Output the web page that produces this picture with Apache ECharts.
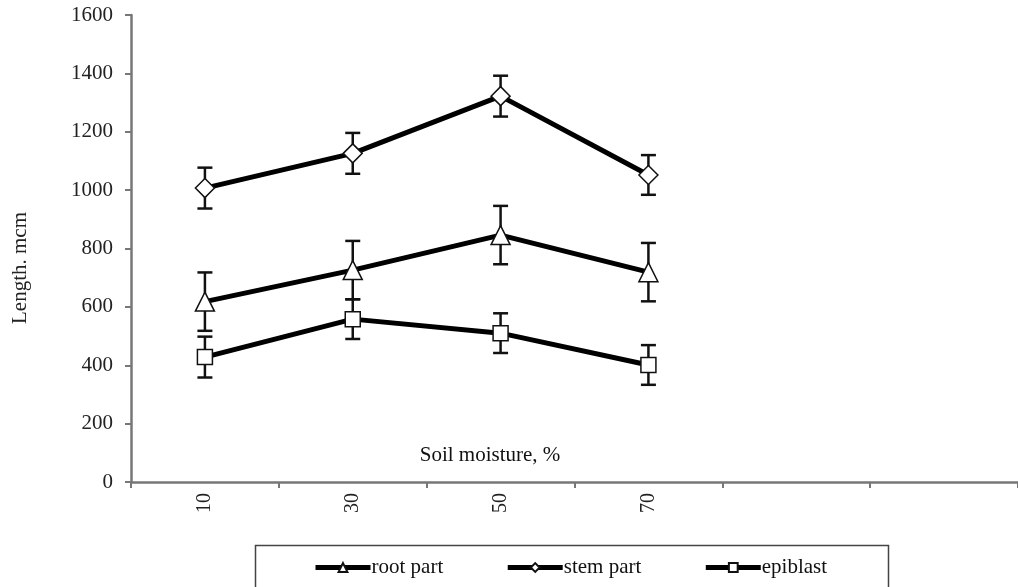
<!DOCTYPE html>
<html><head><meta charset="utf-8">
<script src="https://cdn.jsdelivr.net/npm/echarts@6/dist/echarts.min.js"></script>
<style>html,body{margin:0;padding:0;background:#fff}#c{width:1018px;height:587px}</style>
</head><body><div id="c"></div>
<script>
const categories = ['10', '30', '50', '70', '', ''];
const rootPart = [618, 726, 846, 719];
const rootErr = [100, 100, 100, 100];
const stemPart = [1007, 1126, 1322, 1052];
const stemErr = [70, 70, 70, 68];
const epiblast = [428, 558, 510, 401];
const epiErr = [70, 68, 68, 68];
const yTicks = { min: 0, max: 1600, interval: 200 };

const FONT = '"Liberation Serif", "DejaVu Serif", serif';
const chart = echarts.init(document.getElementById('c'));

function errData(vals, errs) {
  return vals.map((v, i) => [i, v - errs[i], v + errs[i]]);
}
function errSeries(vals, errs) {
  return {
    type: 'custom',
    z: 1,
    silent: true,
    data: errData(vals, errs),
    renderItem: function (params, api) {
      const x = api.value(0);
      const lo = api.coord([x, api.value(1)]);
      const hi = api.coord([x, api.value(2)]);
      const w = 7.5;
      const st = { stroke: '#111', lineWidth: 2.5, fill: null };
      return {
        type: 'group',
        children: [
          { type: 'line', shape: { x1: hi[0], y1: hi[1], x2: lo[0], y2: lo[1] }, style: st },
          { type: 'line', shape: { x1: hi[0] - w, y1: hi[1], x2: hi[0] + w, y2: hi[1] }, style: st },
          { type: 'line', shape: { x1: lo[0] - w, y1: lo[1], x2: lo[0] + w, y2: lo[1] }, style: st }
        ]
      };
    }
  };
}
function lineSeries(name, vals, symbol, size) {
  return {
    name: name,
    type: 'line',
    z: 3,
    data: vals,
    symbol: symbol,
    symbolSize: size,
    lineStyle: { color: '#000', width: 5 },
    itemStyle: { color: '#fff', borderColor: '#111', borderWidth: 1.5 },
    emphasis: { disabled: true }
  };
}

chart.setOption({
  animation: false,
  backgroundColor: '#fff',
  grid: { left: 131, top: 15, bottom: 105, width: 891, containLabel: false },
  xAxis: {
    type: 'category',
    data: categories,
    boundaryGap: true,
    axisLine: { lineStyle: { color: '#777', width: 2.5 } },
    axisTick: { show: true, length: 6, lineStyle: { color: '#777', width: 2 } },
    axisLabel: { rotate: 90, fontFamily: FONT, fontSize: 20, color: '#222', margin: 11 },
    splitLine: { show: false }
  },
  yAxis: {
    type: 'value',
    min: yTicks.min, max: yTicks.max, interval: yTicks.interval,
    axisLine: { show: true, lineStyle: { color: '#777', width: 2.5 } },
    axisTick: { show: true, length: 6, lineStyle: { color: '#777', width: 2 } },
    axisLabel: { fontFamily: FONT, fontSize: 21, color: '#222', margin: 18, formatter: function (v) { return String(v); } },
    splitLine: { show: false }
  },
  legend: {
    left: 313, top: 557,
    padding: 0,
    itemWidth: 55, itemHeight: 11,
    itemGap: 62,
    lineStyle: { width: 5, color: '#000' },
    textStyle: { fontFamily: FONT, fontSize: 21, color: '#111', padding: [0, 0, 0, -4] },
    data: ['root part', 'stem part', 'epiblast']
  },
  graphic: [
    { type: 'rect', left: 253, top: 543, shape: { width: 633, height: 46 },
      style: { fill: null, stroke: '#444', lineWidth: 1.5 }, z: 0 },
    { type: 'text', x: 20, y: 268, rotation: Math.PI / 2,
      style: { text: 'Length. mcm', fontFamily: FONT, fontSize: 21, fill: '#222', align: 'center', verticalAlign: 'middle' } },
    { type: 'text', x: 490, y: 455,
      style: { text: 'Soil moisture, %', fontFamily: FONT, fontSize: 21, fill: '#111', align: 'center', verticalAlign: 'middle' } }
  ],
  series: [
    errSeries(rootPart, rootErr),
    errSeries(stemPart, stemErr),
    errSeries(epiblast, epiErr),
    lineSeries('root part', rootPart, 'triangle', 19),
    lineSeries('stem part', stemPart, 'diamond', 19),
    lineSeries('epiblast', epiblast, 'rect', 15)
  ]
});
</script></body></html>
